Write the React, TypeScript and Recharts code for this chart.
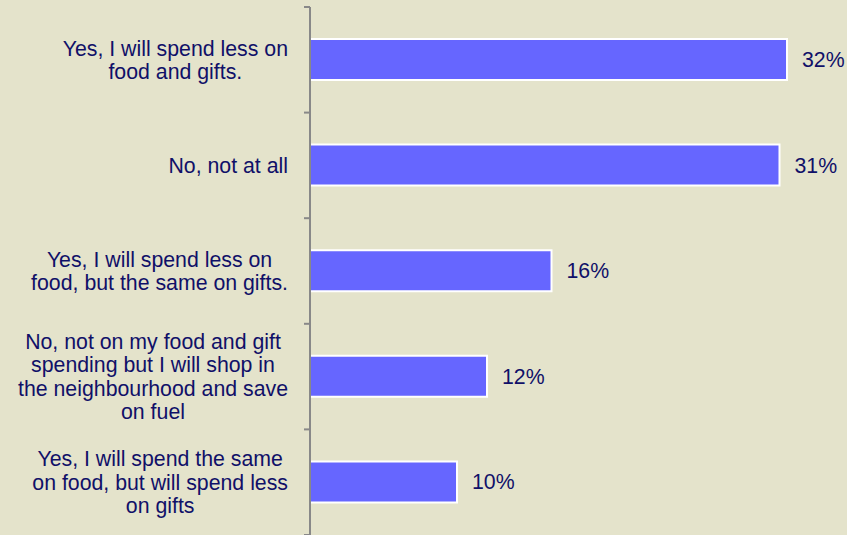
// Survey answers: horizontal bar chart
import { BarChart, Bar, XAxis, YAxis, LabelList } from "recharts";

// answer texts (line breaks as in the picture)
const categories = [
  "Yes, I will spend less on\nfood and gifts.",
  "No, not at all",
  "Yes, I will spend less on\nfood, but the same on gifts.",
  "No, not on my food and gift\nspending but I will shop in\nthe neighbourhood and save\non fuel",
  "Yes, I will spend the same\non food, but will spend less\non gifts",
];

// share of respondents (%)
const shares = [31.8, 31.3, 16.1, 11.8, 9.8];

const data = categories.map((name, i) => ({ name, value: shares[i] }));

const WIDTH = 847;
const HEIGHT = 535;
const MARGIN = { top: 7, right: 12, bottom: 0, left: 0 };
const AXIS_W = 310;
const FONT = '"Liberation Sans", Arial, sans-serif';
const FONT_SIZE = 21.3;
const LINE_H = 23.4;
const TEXT_COLOR = "#101068";
const BG = "#e4e3cb";

// measure text width to center lines inside a right-aligned block
const ctx = document.createElement("canvas").getContext("2d");
function textWidth(s: string) {
  if (!ctx) return s.length * FONT_SIZE * 0.5;
  ctx.font = `${FONT_SIZE}px ${FONT}`;
  return ctx.measureText(s).width;
}

const band = (HEIGHT - MARGIN.top - MARGIN.bottom) / categories.length;

function CategoryTick(props: any) {
  const { y, payload, index } = props;
  const lines: string[] = String(payload.value).split("\n");
  const blockW = Math.max(...lines.map(textWidth));
  const right = AXIS_W - 22;
  const cx = right - blockW / 2;
  const axisX = AXIS_W;
  return (
    <g>
      {/* tick marks sit on band boundaries */}
      <line x1={axisX - 6} x2={axisX} y1={y - band / 2} y2={y - band / 2} stroke="#888" strokeWidth={2} />
      {index === categories.length - 1 && (
        <line x1={axisX - 6} x2={axisX} y1={y + band / 2} y2={y + band / 2} stroke="#888" strokeWidth={2} />
      )}
      {lines.map((ln, i) => (
        <text
          key={i}
          x={cx}
          y={y + (i - (lines.length - 1) / 2) * LINE_H}
          dy="0.35em"
          textAnchor="middle"
          fill={TEXT_COLOR}
          fontSize={FONT_SIZE}
          fontFamily={FONT}
        >
          {ln}
        </text>
      ))}
    </g>
  );
}

export default function App() {
  return (
    <div style={{ position: "absolute", left: 0, top: 0, width: WIDTH, height: HEIGHT, background: BG }}>
      <BarChart width={WIDTH} height={HEIGHT} data={data} layout="vertical" margin={MARGIN} barCategoryGap={0}>
        <XAxis type="number" domain={[0, 35]} hide />
        <YAxis
          type="category"
          dataKey="name"
          width={AXIS_W}
          axisLine={{ stroke: "#888", strokeWidth: 2 }}
          tickLine={false}
          tick={<CategoryTick />}
          interval={0}
        />
        <Bar dataKey="value" fill="#6666ff" stroke="#ffffff" strokeWidth={2} barSize={41} isAnimationActive={false}>
          <LabelList
            dataKey="value"
            position="right"
            offset={15}
            formatter={(v: any) => `${Math.round(Number(v))}%`}
            fill={TEXT_COLOR}
            fontSize={FONT_SIZE}
            fontFamily={FONT}
          />
        </Bar>
      </BarChart>
    </div>
  );
}
